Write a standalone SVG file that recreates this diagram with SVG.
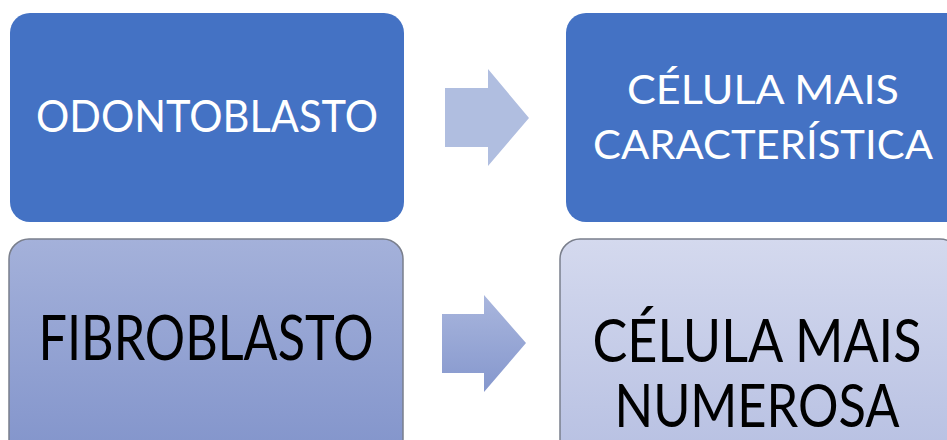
<svg xmlns="http://www.w3.org/2000/svg" width="947" height="440" viewBox="0 0 947 440">
<defs>
<linearGradient id="g3" x1="0" y1="0" x2="0" y2="1"><stop offset="0" stop-color="#a4b1da"/><stop offset="1" stop-color="#8294cb"/></linearGradient>
<linearGradient id="g4" x1="0" y1="0" x2="0" y2="1"><stop offset="0" stop-color="#d4d9ee"/><stop offset="1" stop-color="#b7c0e2"/></linearGradient>
<linearGradient id="ga" x1="0" y1="0" x2="0" y2="1"><stop offset="0" stop-color="#a9b6dd"/><stop offset="1" stop-color="#8597cd"/></linearGradient>
<style>
.t{font-family:Lato,"Open Sans","Liberation Sans",sans-serif;text-anchor:middle}
.w{fill:#ffffff}
.k{fill:#000000}
.blue{fill:#4472c4}
.grey{stroke:#7a7f8c;stroke-width:1.5}
</style>
</defs>
<rect width="947" height="440" fill="#ffffff"/>
<g id="odontoblasto">
<rect class="blue" x="10" y="13" width="394" height="209" rx="20"/>
<text class="t w" x="207" y="132" font-size="44" textLength="342" lengthAdjust="spacingAndGlyphs">ODONTOBLASTO</text>
</g>
<g id="celula-caracteristica">
<rect class="blue" x="566" y="13" width="400" height="209" rx="20"/>
<text class="t w" x="763" y="104" font-size="41" textLength="272" lengthAdjust="spacingAndGlyphs">CÉLULA MAIS</text>
<text class="t w" x="763" y="159" font-size="41" textLength="340" lengthAdjust="spacingAndGlyphs">CARACTERÍSTICA</text>
</g>
<g id="fibroblasto">
<rect class="grey" x="9" y="239" width="394" height="220" rx="20" fill="url(#g3)"/>
<text class="t k" x="206" y="360" font-size="62" textLength="335" lengthAdjust="spacingAndGlyphs">FIBROBLASTO</text>
</g>
<g id="celula-numerosa">
<rect class="grey" x="560" y="239" width="400" height="220" rx="20" fill="url(#g4)"/>
<text class="t k" x="757" y="362" font-size="60" textLength="329" lengthAdjust="spacingAndGlyphs">CÉLULA MAIS</text>
<text class="t k" x="757" y="427" font-size="60" textLength="285" lengthAdjust="spacingAndGlyphs">NUMEROSA</text>
</g>
<g id="connectors">
<polygon points="445,88 488,88 488,69 529,118 488,166 488,147 445,147" fill="#b0bee0"/>
<polygon points="442,314 484,314 484,295 526,343 484,392 484,373 442,373" fill="url(#ga)"/>
</g>
</svg>
